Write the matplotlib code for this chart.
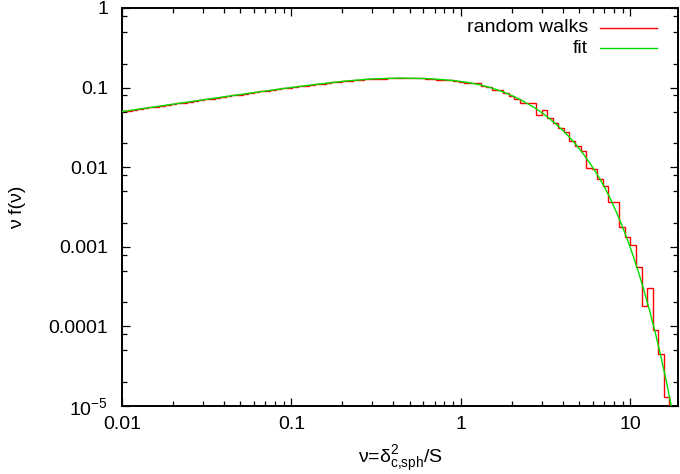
import numpy as np
import matplotlib
matplotlib.use('Agg')
import matplotlib.pyplot as plt
from matplotlib.ticker import LogLocator, NullFormatter

plt.rcParams['font.family'] = ['Liberation Sans', 'DejaVu Sans']
plt.rcParams['mathtext.fontset'] = 'custom'
plt.rcParams['mathtext.rm'] = 'Liberation Sans'
plt.rcParams['mathtext.it'] = 'Liberation Sans'
plt.rcParams['mathtext.default'] = 'regular'

RED = '#ff0000'
GREEN = '#00e000'
FS = 14

# ── data ─────────────────────────────────────────────────────────────────────
# histogram bins (uniform in log nu)
nu_edges = np.logspace(-2.008, 1.262, 101)

rw_vals = [
    0.05028, 0.05146, 0.05266, 0.05390, 0.05515, 0.05646, 0.05779, 0.05916, 0.06053, 0.06196,
    0.06342, 0.06491, 0.06644, 0.06800, 0.06960, 0.07123, 0.07289, 0.07459, 0.07631, 0.07809,
    0.07991, 0.08173, 0.08360, 0.08548, 0.08743, 0.08943, 0.09138, 0.09341, 0.09546, 0.09757,
    0.09970, 0.1017, 0.1038, 0.1059, 0.1081, 0.1103, 0.1123, 0.1144, 0.1165, 0.1186,
    0.1208, 0.1224, 0.1240, 0.1256, 0.1272, 0.1288, 0.1294, 0.1300, 0.1306, 0.1312,
    0.1318, 0.1321, 0.1321, 0.1318, 0.1309, 0.1297, 0.1285, 0.1262, 0.1258, 0.1236,
    0.1219, 0.1189, 0.1148, 0.1143, 0.1138, 0.1059, 0.1007, 0.0923, 0.0923, 0.0851,
    0.0794, 0.0724, 0.0646, 0.0641, 0.0641, 0.0457, 0.0518, 0.0415, 0.0359, 0.0311,
    0.0275, 0.0211, 0.0182, 0.0158, 0.00977, 0.00944, 0.00708, 0.00582, 0.00366, 0.00366,
    0.00175, 0.00133, 0.00106, 5.62e-4, 1.83e-4, 3.00e-4, 9.12e-5, 4.47e-5, 1.30e-5, 2e-6,
]

nu_fit = [0.01, 0.01485, 0.02164, 0.03154, 0.04596, 0.06697, 0.09757, 0.1422, 0.2072,
          0.3019, 0.4398, 0.6409, 0.8035, 0.934, 1.086, 1.262, 1.467, 1.706, 1.983,
          2.305, 2.680, 2.890, 3.116, 3.360, 3.622, 3.906, 4.211, 4.539, 4.894, 5.277,
          5.690, 6.135, 6.615, 7.132, 7.690, 8.292, 8.940, 9.638, 10.39, 11.21, 12.08,
          13.03, 14.05, 15.14, 16.33, 17.60, 19.0]
vf_fit = [0.0500, 0.05646, 0.06343, 0.07123, 0.07991, 0.08944, 0.09970, 0.1103, 0.1208,
          0.1288, 0.1318, 0.1297, 0.1253, 0.1218, 0.1165, 0.1096, 0.1012, 0.0912, 0.0801,
          0.0684, 0.0569, 0.0513, 0.0456, 0.0402, 0.0351, 0.0303, 0.02587, 0.02177, 0.01802,
          0.01464, 0.01170, 0.00920, 0.00710, 0.00531, 0.00386, 0.00270, 0.00183, 0.00121,
          7.65e-4, 4.67e-4, 2.74e-4, 1.54e-4, 8.22e-5, 4.18e-5, 2.01e-5, 9.1e-6, 3.9e-6]

x_ticks = [0.01, 0.1, 1, 10]
x_ticklabels = ['0.01', '0.1', '1', '10']
y_ticks = [1e-5, 1e-4, 1e-3, 1e-2, 1e-1, 1]
y_ticklabels = [r'$\mathregular{10^{-5}}$', '0.0001', '0.001', '0.01', '0.1', '1']

# ── figure ───────────────────────────────────────────────────────────────────
W, H = 680, 474
fig = plt.figure(figsize=(W / 100, H / 100), dpi=100)
ax = fig.add_axes([122 / W, 1 - 406 / H, 556 / W, 398 / H])

ax.stairs(rw_vals, nu_edges, baseline=None, color=RED, lw=1.0, zorder=3)
ax.plot(nu_fit, vf_fit, color=GREEN, lw=1.0, zorder=4)

ax.set_xscale('log')
ax.set_yscale('log')
ax.set_xlim(0.01, 19.1)
ax.set_ylim(1e-5, 1)

ax.set_xticks(x_ticks)
ax.set_xticklabels(x_ticklabels)
ax.set_yticks(y_ticks)
ax.set_yticklabels(y_ticklabels)
ax.xaxis.set_minor_locator(LogLocator(base=10, subs=np.arange(2, 10), numticks=20))
ax.yaxis.set_minor_locator(LogLocator(base=10, subs=(2, 5, 8), numticks=20))
ax.xaxis.set_minor_formatter(NullFormatter())
ax.yaxis.set_minor_formatter(NullFormatter())

ax.tick_params(which='both', direction='in', top=True, right=True, labelsize=FS)
ax.tick_params(which='major', length=6, width=0.9)
ax.tick_params(which='minor', length=3.5, width=0.9)
ax.tick_params(axis='x', which='major', pad=7)
ax.tick_params(axis='y', which='major', pad=10)
for s in ax.spines.values():
    s.set_linewidth(1.4)

# axis titles
fig.text(400 / W, 1 - 463 / H, r'ν=$\mathregular{δ^{2}_{c{,}sph}}$/S',
         ha='center', va='baseline', fontsize=FS)
fig.text(18 / W, 1 - 207 / H, 'ν f(ν)', rotation=90,
         ha='center', va='center', fontsize=FS)

# key, gnuplot style (text right-aligned, sample on the right)
for row, (name, col) in enumerate([('random walks', RED), ('fit', GREEN)]):
    yk = 0.950 - row * 0.051
    ax.text(0.838, yk, name, transform=ax.transAxes, ha='right', va='center', fontsize=FS)
    ax.plot([0.860, 0.962], [yk, yk], transform=ax.transAxes, color=col, lw=1.0)

fig.savefig('out.png', dpi=100, facecolor='white')
